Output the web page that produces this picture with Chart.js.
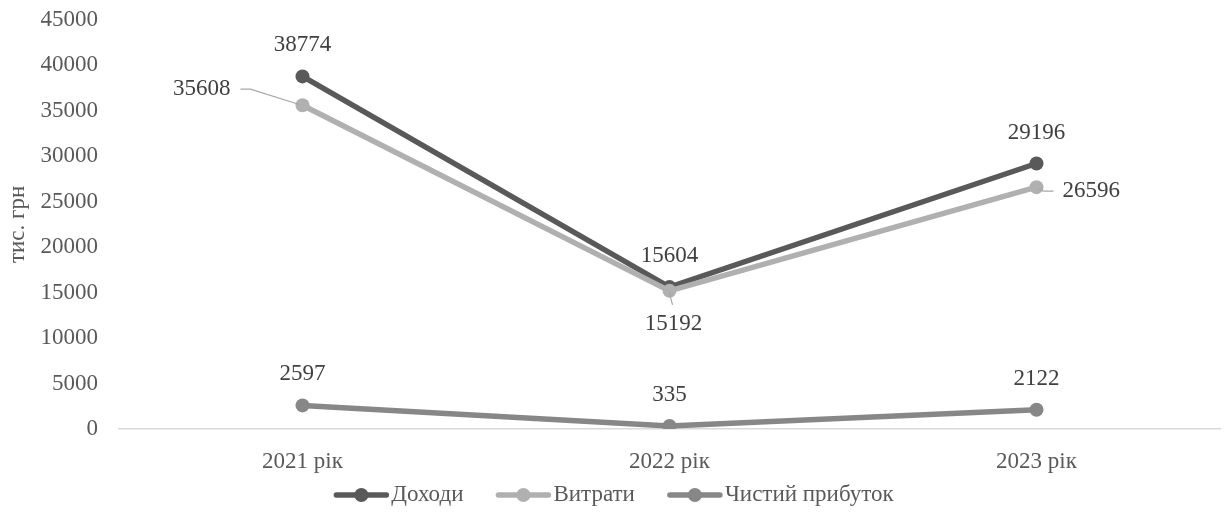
<!DOCTYPE html>
<html>
<head>
<meta charset="utf-8">
<script src="https://cdn.jsdelivr.net/npm/chart.js@4/dist/chart.umd.min.js"></script>
<style>
html,body{margin:0;padding:0;background:#fff;}
#wrap{width:1227px;height:524px;position:relative;}
</style>
</head>
<body>
<div id="wrap"><canvas id="c" width="1227" height="524"></canvas></div>
<script>
const categories = ['2021 рік', '2022 рік', '2023 рік'];
const seriesNames = ['Доходи', 'Витрати', 'Чистий прибуток'];
const incomes = [38774, 15604, 29196];
const expenses = [35608, 15192, 26596];
const netProfit = [2597, 335, 2122];
const yTitle = 'тис. грн';

const colors = ['#595959', '#b0b0b0', '#878787'];
const placements = [
  ['above', 'above', 'above'],
  ['left', 'below', 'right'],
  ['above', 'above', 'above']
];
const FONT = "'Liberation Serif', 'Times New Roman', serif";
const FS = 23;

const labelPlugin = {
  id: 'valueLabels',
  afterDatasetsDraw(chart) {
    const ctx = chart.ctx;
    ctx.save();
    ctx.font = FS + 'px ' + FONT;
    ctx.fillStyle = '#404040';
    ctx.textBaseline = 'middle';
    ctx.strokeStyle = '#a6a6a6';
    ctx.lineWidth = 1.2;
    chart.data.datasets.forEach((ds, di) => {
      const meta = chart.getDatasetMeta(di);
      meta.data.forEach((pt, i) => {
        const txt = String(ds.data[i]);
        const p = placements[di][i];
        const x = pt.x, y = pt.y;
        if (p === 'above') {
          ctx.textAlign = 'center';
          ctx.fillText(txt, x, y - 31);
        } else if (p === 'below') {
          ctx.beginPath(); ctx.moveTo(x, y + 2); ctx.lineTo(x + 3, y + 14); ctx.stroke();
          ctx.textAlign = 'center';
          ctx.fillText(txt, x + 4, y + 33);
        } else if (p === 'left') {
          ctx.beginPath(); ctx.moveTo(x - 4, y - 1); ctx.lineTo(x - 52, y - 16); ctx.lineTo(x - 62, y - 16); ctx.stroke();
          ctx.textAlign = 'right';
          ctx.fillText(txt, x - 72, y - 16);
        } else if (p === 'right') {
          ctx.beginPath(); ctx.moveTo(x + 2, y + 2); ctx.lineTo(x + 7, y + 4); ctx.lineTo(x + 17, y + 4); ctx.stroke();
          ctx.textAlign = 'left';
          ctx.fillText(txt, x + 26, y + 4);
        }
      });
    });
    ctx.restore();
  }
};

const legendPlugin = {
  id: 'lineLegend',
  afterDraw(chart) {
    const ctx = chart.ctx;
    ctx.save();
    ctx.font = FS + 'px ' + FONT;
    const iconW = 56, gap = 32, cy = 495;
    const widths = seriesNames.map(n => iconW + 2 + ctx.measureText(n).width);
    const total = widths.reduce((a, b) => a + b, 0) + gap * (seriesNames.length - 1);
    let x = (chart.width - total) / 2;
    seriesNames.forEach((n, i) => {
      ctx.strokeStyle = colors[i];
      ctx.fillStyle = colors[i];
      ctx.lineWidth = 5.5;
      ctx.lineCap = 'round';
      ctx.beginPath(); ctx.moveTo(x + 3, cy); ctx.lineTo(x + iconW - 3, cy); ctx.stroke();
      ctx.beginPath(); ctx.arc(x + iconW / 2, cy, 7, 0, Math.PI * 2); ctx.fill();
      ctx.fillStyle = '#595959';
      ctx.textAlign = 'left';
      ctx.textBaseline = 'middle';
      ctx.fillText(n, x + iconW + 2, cy);
      x += widths[i] + gap;
    });
    ctx.restore();
  }
};

const seriesData = [incomes, expenses, netProfit];
const datasets = seriesData.map((d, i) => ({
  label: seriesNames[i],
  data: d,
  borderColor: colors[i],
  backgroundColor: colors[i],
  borderWidth: 5.5,
  pointRadius: 7,
  pointHoverRadius: 7,
  pointBackgroundColor: colors[i],
  pointBorderWidth: 0,
  tension: 0,
  order: 3 - i
}));

Chart.defaults.font.family = FONT;
Chart.defaults.font.size = FS;
Chart.defaults.color = '#595959';

new Chart(document.getElementById('c'), {
  type: 'line',
  data: { labels: categories, datasets },
  options: {
    responsive: false,
    animation: false,
    devicePixelRatio: 1,
    layout: { padding: { left: 0, right: 5, top: 10, bottom: 0 } },
    plugins: {
      tooltip: { enabled: false },
      legend: { display: false }
    },
    scales: {
      x: {
        offset: true,
        grid: { display: false, drawTicks: false },
        border: { display: true, color: '#d9d9d9', width: 1.5 },
        ticks: { color: '#595959', padding: 19, font: { size: FS } },
        afterFit(s) { s.height = 95; }
      },
      y: {
        min: 0, max: 45000,
        ticks: {
          stepSize: 5000, color: '#595959', padding: 6, font: { size: FS },
          callback: v => String(v)
        },
        grid: {
          display: true, drawOnChartArea: false, drawTicks: true, tickLength: 15,
          color: 'rgba(0,0,0,0)', tickColor: 'rgba(0,0,0,0)'
        },
        border: { display: false },
        title: { display: true, text: yTitle, color: '#595959', font: { size: FS }, padding: 4 },
        afterFit(s) { s.width = 119; }
      }
    }
  },
  plugins: [labelPlugin, legendPlugin]
});
</script>
</body>
</html>
